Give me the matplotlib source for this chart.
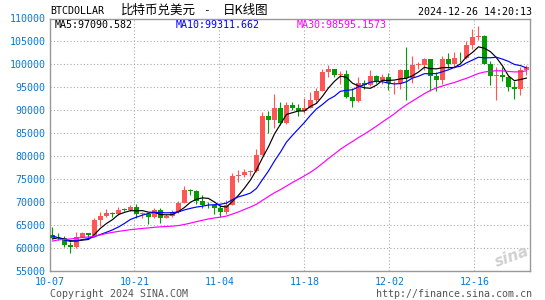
import numpy as np
import pandas as pd
import matplotlib
matplotlib.use('Agg')
import matplotlib.pyplot as plt

# daily candles 10-07 .. 12-25 (one per day)
opens = [62820, 62220, 62130, 60580, 60270, 62450, 63200, 62850, 66050, 67040,
         67620, 67390, 68390, 68360, 69000, 67380, 67380, 66680, 68180, 66640,
         67010, 67950, 69910, 72720, 72340, 70220, 69480, 69300, 68750, 67790,
         69350, 75640, 75900, 76540, 76700, 80370, 88700, 87950, 90500, 87300,
         91070, 90600, 89850, 90460, 92310, 94290, 98350, 98900, 97700, 98000,
         93000, 91950, 95950, 95600, 97500, 96400, 97200, 95850, 96000, 98800,
         97000, 99900, 99950, 101200, 97400, 96700, 101200, 100000, 101400, 101300,
         104300, 106000, 106100, 100000, 97500, 97800, 97200, 95100, 94700, 98700]
highs = [64480, 63180, 62540, 61320, 63420, 63480, 63300, 66500, 67950, 68420,
         67940, 68970, 68690, 69400, 69500, 67830, 67420, 68800, 68770, 67420,
         68220, 70230, 73580, 72940, 72660, 71580, 69930, 69380, 69450, 70560,
         76400, 76970, 77250, 76950, 81500, 89600, 89950, 93450, 91800, 91850,
         91760, 91450, 92600, 94000, 94800, 99000, 99800, 98900, 98600, 98800,
         94900, 97200, 96600, 98700, 97800, 98000, 98100, 96300, 99000, 103900,
         101900, 100500, 101300, 101200, 98300, 101900, 102500, 102600, 102600, 105100,
         107800, 108300, 106500, 100700, 99500, 99500, 97400, 96400, 99400, 99900]
lows = [62130, 61840, 60300, 58900, 60080, 62450, 62040, 62430, 64800, 66750,
        66700, 67170, 68030, 68100, 66600, 66560, 65200, 66450, 65520, 66450,
        66800, 67550, 69730, 71450, 69590, 68820, 68780, 67480, 66800, 67450,
        69320, 74460, 75580, 75780, 76500, 80200, 85100, 86250, 86700, 87100,
        90090, 88750, 89400, 90400, 91600, 94100, 97200, 97200, 95800, 92600,
        90800, 91800, 94700, 95400, 96000, 95750, 94500, 93600, 94700, 92200,
        95900, 99000, 98700, 94200, 94300, 95700, 99300, 99300, 100600, 101200,
        103300, 105300, 100000, 95600, 92200, 96400, 94200, 92500, 93400, 97600]
closes = [62220, 62130, 60580, 60270, 62450, 63200, 62850, 66050, 67040, 67620,
          67390, 68390, 68360, 69000, 67370, 67640, 66680, 68180, 66640, 67010,
          67950, 69910, 72720, 72340, 70220, 69480, 69300, 68750, 67790, 69350,
          75640, 75900, 76540, 76700, 80370, 88700, 87950, 90500, 87300, 91070,
          90600, 89850, 90460, 92310, 94290, 98350, 98900, 97700, 98000, 93000,
          91950, 95950, 95600, 97500, 96400, 97200, 95850, 96000, 98800, 97000,
          99900, 99950, 101200, 97400, 96700, 101200, 100000, 101400, 101300, 104300,
          106000, 106100, 100000, 97500, 97800, 97200, 95100, 94700, 98700, 99400]
# closes before 10-07, only used so the moving averages start on the left edge
prev_closes = [54840, 57020, 57650, 57340, 58130, 60540, 60010, 59130, 58210, 60310,
               61760, 62950, 63200, 63350, 63580, 63330, 64300, 63140, 65180, 65790,
               65890, 65600, 63330, 60800, 60630, 60750, 62090, 62060, 62820]

tick_labels = ['10-07', '10-21', '11-04', '11-18', '12-02', '12-16']
ma_texts = ['MA5:97090.582', 'MA10:99311.662', 'MA30:98595.1573']

W, H = 545, 300
mono = 'DejaVu Sans Mono'
cjk = ['Noto Sans CJK SC', 'DejaVu Sans']
blue = '#0a78d2'
up_col = '#ff5555'
down_col = '#009c00'

fig = plt.figure(figsize=(W / 100, H / 100), dpi=100)
ax = fig.add_axes([49.5 / W, 1 - 271 / H, (530 - 49.5) / W, (271 - 18.5) / H])

n = len(closes)
x = np.arange(n)
o = np.array(opens)
c = np.array(closes)
up = c >= o
cols = np.where(up, up_col, down_col)

# wicks + bodies
ax.vlines(x, lows, highs, colors=cols, lw=0.8, zorder=3)
body_lo = np.minimum(o, c)
body_h = np.maximum(np.abs(c - o), 150)
ax.bar(x, body_h, bottom=body_lo, width=0.8, color=cols, lw=0, zorder=4)

# moving averages
allc = pd.Series(prev_closes + closes)
for win, col in [(5, 'black'), (10, 'blue'), (30, 'magenta')]:
    ma = allc.rolling(win).mean().values[len(prev_closes):]
    ax.plot(x, ma, color=col, lw=0.85, zorder=5)

ax.set_xlim(-0.47, 79.6)
ax.set_ylim(55000, 110000)
ax.set_yticks(range(55000, 110001, 5000))
ax.set_yticklabels([str(v) for v in range(55000, 110001, 5000)])
ax.set_xticks([-0.5 + k * 85 / 6 for k in range(len(tick_labels))])
ax.set_xticklabels(tick_labels)
ax.tick_params(length=0, colors=blue, labelsize=7.2)
ax.tick_params(axis='y', pad=3)
ax.tick_params(axis='x', pad=4)
for lab in ax.get_xticklabels() + ax.get_yticklabels():
    lab.set_family(mono)
ax.grid(True, ls=(0, (1, 2)), color='#aaaaaa', lw=0.8)
for s in ax.spines.values():
    s.set_color('#999999')
    s.set_linewidth(1)

# header
def ftext(px, py, s, **kw):
    fig.text(px / W, 1 - py / H, s, va='center', **kw)

ftext(50, 11.5, 'BTCDOLLAR', family=mono, fontsize=7.2, color='black')
ftext(121, 10.5, '比特币兑美元', family=cjk, fontsize=9, color='black')
ftext(206.5, 10.5, '-', family=mono, fontsize=8, color='black', ha='center')
ftext(223, 10.5, '日K线图', family=cjk, fontsize=9, color='black')
ftext(532, 12.2, '2024-12-26 14:20:13', family=mono, fontsize=7.2, color='black', ha='right')
for px, s, col in zip([55, 176, 296.5], ma_texts, ['black', 'blue', 'magenta']):
    ftext(px, 24.8, s, family=mono, fontsize=7.2, color=col)

# footer
ftext(50, 293.8, 'Copyright 2024 SINA.COM', family=mono, fontsize=7.2, color='#555555')
ftext(532, 293.8, 'http://finance.sina.com.cn', family=mono, fontsize=7.2, color='#555555', ha='right')
ftext(512, 257, 'sina', fontsize=11, color='#d0d0d0', style='italic', weight='bold',
      ha='center', rotation=20)

fig.savefig('out.png', dpi=100)
